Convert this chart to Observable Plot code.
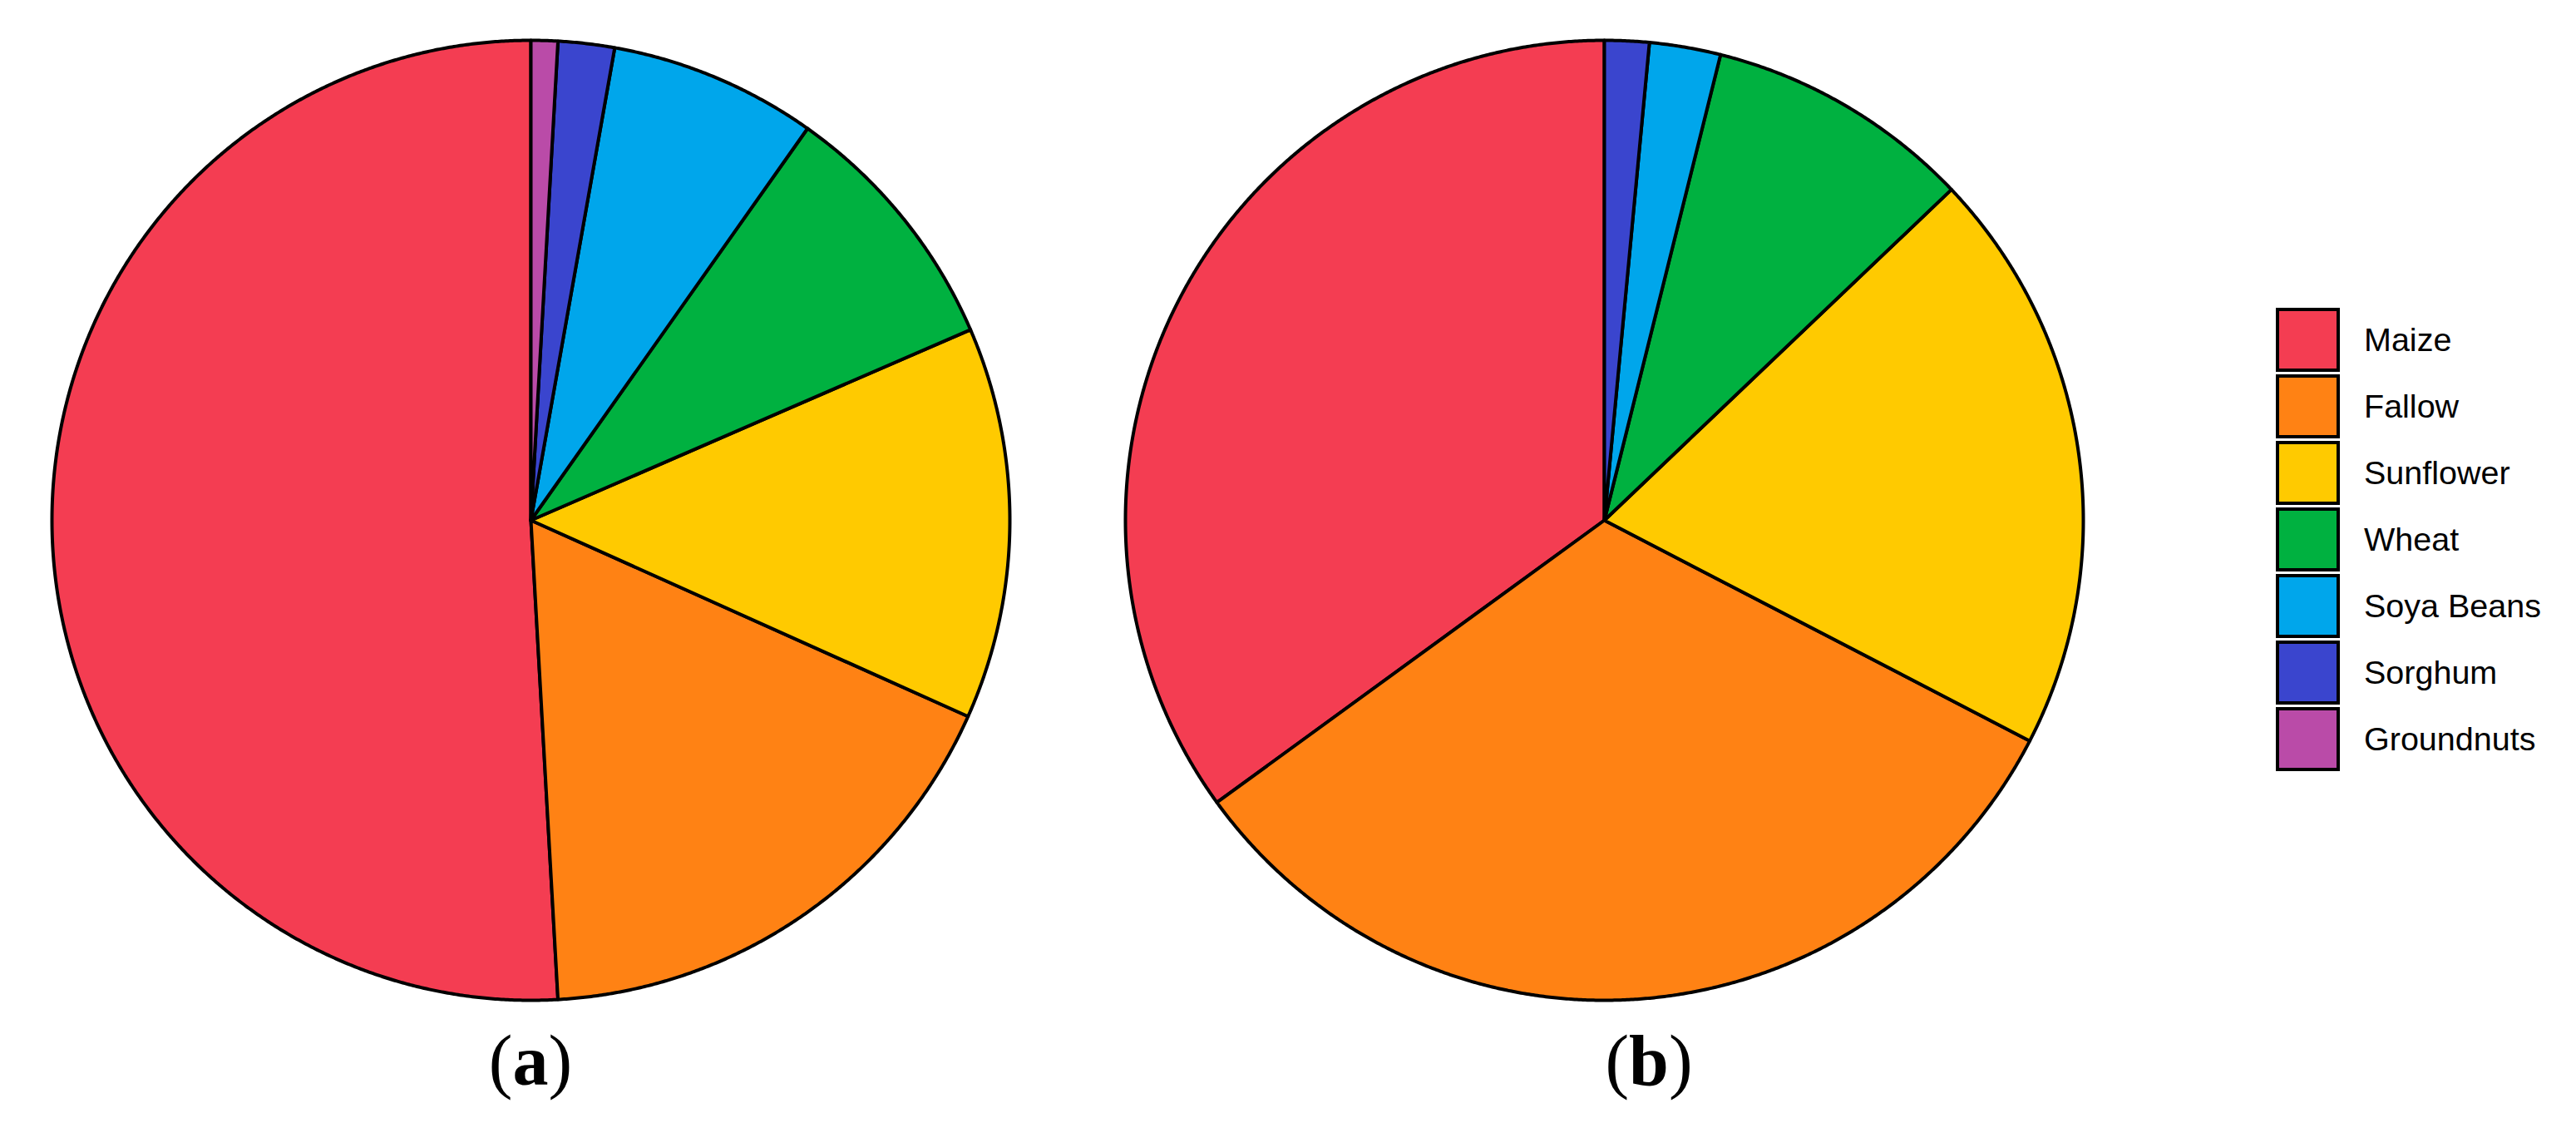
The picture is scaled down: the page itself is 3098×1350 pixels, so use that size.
<!DOCTYPE html>
<html>
<head>
<meta charset="utf-8">
<script src="https://cdn.jsdelivr.net/npm/d3@7"></script>
<script src="https://cdn.jsdelivr.net/npm/@observablehq/plot@0.6"></script>
<style>
  html, body { margin: 0; padding: 0; background: #fff; }
  #wrap { position: relative; width: 3098px; height: 1350px; overflow: hidden; }
  #row { display: flex; flex-direction: row; align-items: flex-start; }
  #legend { margin-left: 212px; margin-top: 368px; font-family: "Liberation Sans", Arial, sans-serif; font-size: 39.5px; color: #000; }
  .item { display: flex; align-items: center; height: 80px; }
  .key { box-sizing: border-box; width: 77px; height: 77px; border: 4.3px solid #000; }
  .lab { margin-left: 29px; white-space: nowrap; }
  .cap { position: absolute; top: 1232px; transform: translateX(-50%); font-family: "Liberation Serif", "Times New Roman", serif; font-size: 86px; line-height: 1; color: #000; white-space: nowrap; }
  .cap b { font-weight: bold; }
</style>
</head>
<body>
<div id="wrap">
  <div id="row"><div id="chart"></div><div id="legend"></div></div>
</div>
<script>
// ---- data ----
const categories = ["Maize", "Fallow", "Sunflower", "Wheat", "Soya Beans", "Sorghum", "Groundnuts"];
const colors = ["#F43D52", "#FF8214", "#FFCA00", "#00B140", "#00A6EB", "#3A45CE", "#BA4BA8"];
const panels = ["(a)", "(b)"];
const panelLetters = ["a", "b"];
const valuesA = [50.9, 17.4, 13.2, 8.7, 7.0, 1.9, 0.9];
const valuesB = [35.0, 32.4, 19.7, 9.0, 2.4, 1.5, 0.0];
const panelValues = [valuesA, valuesB];

// ---- build slice polygons (counterclockwise from 12 o'clock) ----
const rows = [];
panels.forEach((p, pi) => {
  const vals = panelValues[pi];
  const total = d3.sum(vals);
  let cum = 0;
  vals.forEach((v, i) => {
    if (v <= 0) { return; }
    const a0 = cum / total * 2 * Math.PI;
    cum += v;
    const a1 = cum / total * 2 * Math.PI;
    const key = p + "|" + categories[i];
    const n = Math.max(2, Math.ceil((a1 - a0) / (Math.PI / 720)));
    rows.push({panel: p, key, cat: categories[i], x: 0, y: 0});
    for (let k = 0; k <= n; k++) {
      const a = a0 + (a1 - a0) * k / n;
      rows.push({panel: p, key, cat: categories[i], x: -Math.sin(a), y: Math.cos(a)});
    }
    rows.push({panel: p, key, cat: categories[i], x: 0, y: 0});
  });
});

const chart = Plot.plot({
  width: 2525,
  height: 1225,
  marginLeft: 62,
  marginRight: 20,
  marginTop: 48,
  marginBottom: 23,
  x: {domain: [-1, 1], axis: null},
  y: {domain: [-1, 1], axis: null},
  fx: {domain: panels, axis: null, paddingInner: 0.1077, paddingOuter: 0},
  color: {domain: categories, range: colors},
  marks: [
    Plot.line(rows, {fx: "panel", x: "x", y: "y", z: "key", fill: "cat", stroke: "#000", strokeWidth: 4, strokeLinejoin: "round", curve: "linear"})
  ]
});
document.getElementById("chart").appendChild(chart);

// ---- legend ----
const legend = document.getElementById("legend");
categories.forEach((c, i) => {
  const item = document.createElement("div");
  item.className = "item";
  const key = document.createElement("div");
  key.className = "key";
  key.style.background = colors[i];
  const lab = document.createElement("span");
  lab.className = "lab";
  lab.textContent = c;
  item.appendChild(key);
  item.appendChild(lab);
  legend.appendChild(item);
});

// ---- panel captions under each facet ----
const captionShift = [0, 54];
const wrap = document.getElementById("wrap");
const fxScale = chart.scale("fx");
panels.forEach((p, pi) => {
  const cap = document.createElement("div");
  cap.className = "cap";
  const cx = fxScale.apply(p) + fxScale.bandwidth / 2 + captionShift[pi];
  cap.style.left = cx + "px";
  cap.innerHTML = "(<b>" + panelLetters[pi] + "</b>)";
  wrap.appendChild(cap);
});
</script>
</body>
</html>
